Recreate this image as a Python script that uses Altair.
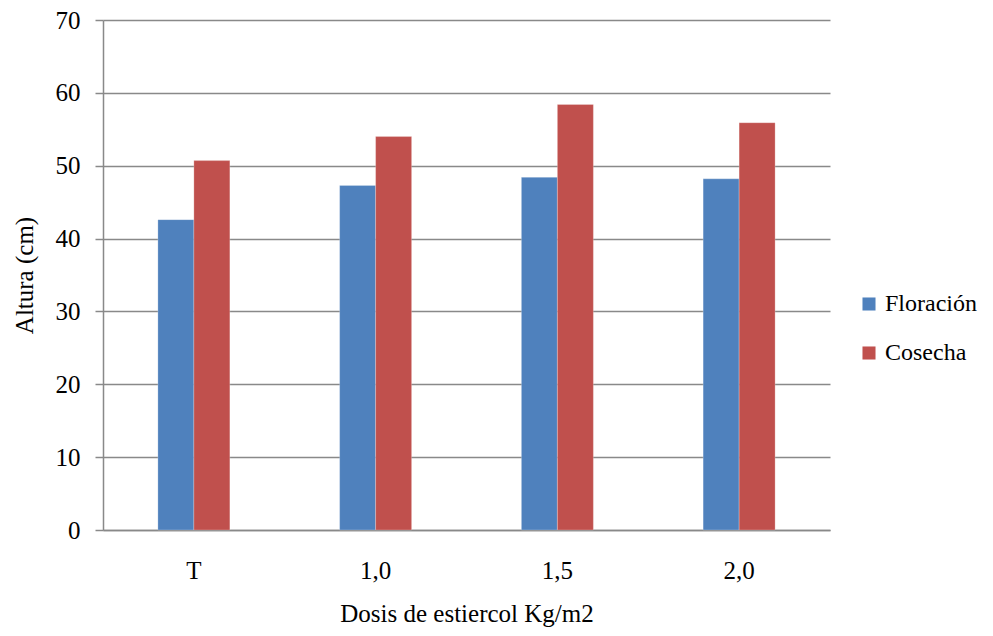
import altair as alt
import pandas as pd

categories = ["T", "1,0", "1,5", "2,0"]
floracion = [42.6, 47.3, 48.4, 48.2]
cosecha = [50.7, 54.0, 58.4, 55.9]
series = ["Floración", "Cosecha"]
colors = ["#4F81BD", "#C0504D"]

rows = []
for c, f, k in zip(categories, floracion, cosecha):
    rows.append({"dosis": c, "serie": series[0], "altura": f})
    rows.append({"dosis": c, "serie": series[1], "altura": k})
df = pd.DataFrame(rows)

FONT = "Liberation Serif"
FS = 25

chart = alt.Chart(df).mark_bar(stroke="white", strokeWidth=0.4, strokeOpacity=0.6).encode(
    x=alt.X("dosis:N", sort=categories,
            scale=alt.Scale(paddingInner=0.604, paddingOuter=0.302),
            axis=alt.Axis(title="Dosis de estiercol Kg/m2", labelAngle=0, ticks=False,
                          labelPadding=28, titlePadding=18, domainColor="#898989",
                          domainWidth=1.5, labelFont=FONT, titleFont=FONT,
                          labelFontSize=FS, titleFontSize=FS)),
    xOffset=alt.XOffset("serie:N", sort=series),
    y=alt.Y("altura:Q", scale=alt.Scale(domain=[0, 70]),
            axis=alt.Axis(title="Altura (cm)", values=list(range(0, 71, 10)),
                          tickSize=8, tickColor="#898989", tickWidth=1.5,
                          domainColor="#898989", domainWidth=1.5,
                          gridColor="#898989", gridWidth=1.5,
                          labelPadding=15, titlePadding=18,
                          labelFont=FONT, titleFont=FONT,
                          labelFontSize=FS, titleFontSize=FS)),
    color=alt.Color("serie:N", sort=series,
                    scale=alt.Scale(domain=series, range=colors),
                    legend=alt.Legend(title=None, orient="none", legendX=754, legendY=272,
                                      padding=0, symbolType="square", symbolSize=170,
                                      symbolStrokeWidth=0, labelFontSize=24,
                                      labelFont=FONT, rowPadding=25, labelOffset=4,
                                      labelColor="black", labelLimit=200)),
).properties(
    width=727, height=510,
    autosize=alt.AutoSizeParams(type="none"),
    padding={"left": 95, "top": 12, "right": 153, "bottom": 98},
).configure(font=FONT).configure_view(stroke=None).configure_axis(
    labelColor="black", titleColor="black", titleFontWeight="normal", grid=True,
).configure_axisX(grid=False)

chart.save("out.html", embed_options={"renderer": "svg", "actions": False})
